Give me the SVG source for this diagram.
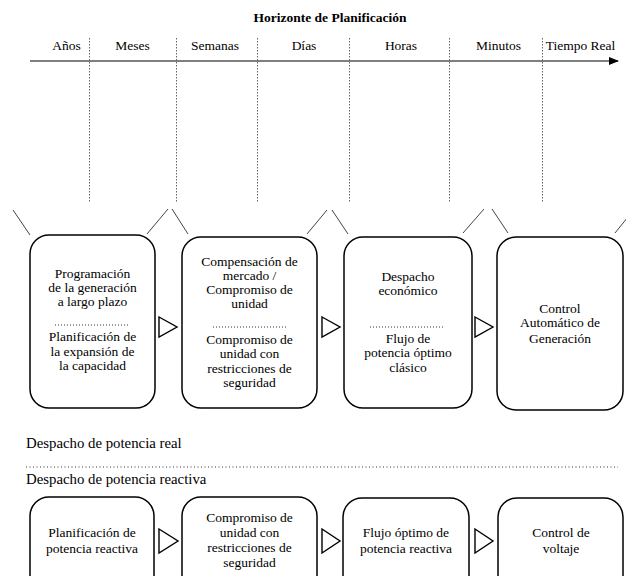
<svg xmlns="http://www.w3.org/2000/svg" width="626" height="576" viewBox="0 0 626 576">
<style>
text{font-family:'Liberation Serif','DejaVu Serif',serif;fill:#000}
.t{font-size:13.5px;text-anchor:middle}
.lbl{font-size:14.8px}
.title{font-size:13.5px;font-weight:bold;text-anchor:middle}
.box{fill:#fff;stroke:#000;stroke-width:1.5}
.tri{fill:#fff;stroke:#000;stroke-width:1.4;stroke-linejoin:miter}
.vdash{stroke:#666;stroke-width:1;stroke-dasharray:1.5,1.5}
.diag{stroke:#444;stroke-width:1}
.sep{stroke:#333;stroke-width:1;stroke-dasharray:1,2}
</style>
<defs>
<marker id="ah" markerWidth="10" markerHeight="8" refX="9" refY="4" orient="auto" markerUnits="userSpaceOnUse">
<path d="M0,0 L10,4 L0,8 Z" fill="#000"/>
</marker>
</defs>
<g font-family="'Liberation Serif','DejaVu Serif',serif">
<text class="title" x="330" y="22">Horizonte de Planificación</text>
<g id="axis">
<line x1="30" y1="61" x2="618" y2="61" stroke="#000" stroke-width="1.2" marker-end="url(#ah)"/>
<text class="t" x="66.5" y="50">Años</text>
<text class="t" x="132.5" y="50">Meses</text>
<text class="t" x="215" y="50">Semanas</text>
<text class="t" x="304" y="50">Días</text>
<text class="t" x="401" y="50">Horas</text>
<text class="t" x="498.5" y="50">Minutos</text>
<text class="t" x="580.5" y="50">Tiempo Real</text>
<line class="vdash" x1="89.5" y1="38" x2="89.5" y2="203"/>
<line class="vdash" x1="176.5" y1="38" x2="176.5" y2="203"/>
<line class="vdash" x1="257.5" y1="38" x2="257.5" y2="203"/>
<line class="vdash" x1="349.5" y1="38" x2="349.5" y2="203"/>
<line class="vdash" x1="449.5" y1="38" x2="449.5" y2="203"/>
<line class="vdash" x1="542.5" y1="38" x2="542.5" y2="203"/>
</g>
<g id="connectors">
<line class="diag" x1="13" y1="210" x2="30" y2="235"/>
<line class="diag" x1="147" y1="234" x2="168" y2="209"/>
<line class="diag" x1="172" y1="209" x2="188" y2="234"/>
<line class="diag" x1="307" y1="234" x2="327" y2="210"/>
<line class="diag" x1="332" y1="210" x2="348" y2="234"/>
<line class="diag" x1="463" y1="233" x2="484" y2="209"/>
<line class="diag" x1="492" y1="209" x2="508" y2="233"/>
<line class="diag" x1="615" y1="233" x2="632" y2="212"/>
<polygon class="tri" points="159,317 177,327 159,337"/>
<polygon class="tri" points="322,317 340,327 322,337"/>
<polygon class="tri" points="475,317 493,327 475,337"/>
<polygon class="tri" points="159,529 178,541 159,553"/>
<polygon class="tri" points="322,529 340,541 322,553"/>
<polygon class="tri" points="475,529 493,541 475,553"/>
</g>
<g id="n1">
<rect class="box" x="30" y="235" width="125" height="173" rx="19"/>
<text class="t" x="92.5" y="278">Programación</text>
<text class="t" x="92.5" y="292">de la generación</text>
<text class="t" x="92.5" y="306">a largo plazo</text>
<line class="sep" x1="55" y1="325" x2="128" y2="325"/>
<text class="t" x="92.5" y="341">Planificación de</text>
<text class="t" x="92.5" y="356">la expansión de</text>
<text class="t" x="92.5" y="370">la capacidad</text>
</g>
<g id="n2">
<rect class="box" x="182" y="237" width="135" height="171" rx="19"/>
<text class="t" x="249.5" y="266">Compensación de</text>
<text class="t" x="249.5" y="280">mercado /</text>
<text class="t" x="249.5" y="294">Compromiso de</text>
<text class="t" x="249.5" y="308">unidad</text>
<line class="sep" x1="213" y1="327" x2="287" y2="327"/>
<text class="t" x="249.5" y="344">Compromiso de</text>
<text class="t" x="249.5" y="358">unidad con</text>
<text class="t" x="249.5" y="373">restricciones de</text>
<text class="t" x="249.5" y="387">seguridad</text>
</g>
<g id="n3">
<rect class="box" x="344" y="237" width="128" height="171" rx="19"/>
<text class="t" x="408" y="281">Despacho</text>
<text class="t" x="408" y="295">económico</text>
<line class="sep" x1="370" y1="327" x2="443" y2="327"/>
<text class="t" x="408" y="343">Flujo de</text>
<text class="t" x="408" y="357">potencia óptimo</text>
<text class="t" x="408" y="372">clásico</text>
</g>
<g id="n4">
<rect class="box" x="497" y="237" width="126" height="173" rx="19"/>
<text class="t" x="560" y="313">Control</text>
<text class="t" x="560" y="327">Automático de</text>
<text class="t" x="560" y="343">Generación</text>
</g>
<g id="sections">
<text class="lbl" x="26" y="448">Despacho de potencia real</text>
<line x1="26" y1="467" x2="618" y2="467" stroke="#333" stroke-width="1" stroke-dasharray="1,2.5"/>
<text class="lbl" x="26" y="484">Despacho de potencia reactiva</text>
</g>
<g id="r1">
<rect class="box" x="30" y="497" width="124" height="100" rx="19"/>
<text class="t" x="92" y="537">Planificación de</text>
<text class="t" x="92" y="553">potencia reactiva</text>
</g>
<g id="r2">
<rect class="box" x="182" y="497" width="135" height="100" rx="19"/>
<text class="t" x="249.5" y="522">Compromiso de</text>
<text class="t" x="249.5" y="537">unidad con</text>
<text class="t" x="249.5" y="552">restricciones de</text>
<text class="t" x="249.5" y="567">seguridad</text>
</g>
<g id="r3">
<rect class="box" x="343" y="498" width="126" height="100" rx="19"/>
<text class="t" x="406" y="537">Flujo óptimo de</text>
<text class="t" x="406" y="553">potencia reactiva</text>
</g>
<g id="r4">
<rect class="box" x="498" y="498" width="125" height="100" rx="19"/>
<text class="t" x="561" y="537">Control de</text>
<text class="t" x="561" y="553">voltaje</text>
</g>
</g>
</svg>
